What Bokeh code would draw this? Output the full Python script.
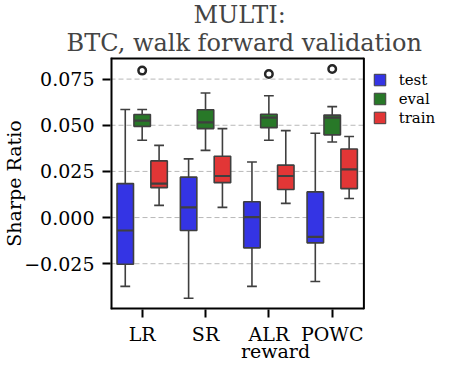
from bokeh.plotting import figure
from bokeh.models import FixedTicker, Range1d, Title
from bokeh.core.properties import value
from bokeh.embed import file_html
from bokeh.resources import INLINE

categories = ["LR", "SR", "ALR", "POWC"]
series = ["test", "eval", "train"]
colors = ["#3434e4", "#287828", "#e23636"]
title_lines = ["MULTI:", "BTC, walk forward validation"]

test_lo = [-0.0373, -0.0437, -0.0373, -0.0346]
test_q1 = [-0.0253, -0.0070, -0.0164, -0.0137]
test_med = [-0.0070, 0.0055, 0.0002, -0.0105]
test_q3 = [0.0184, 0.0219, 0.0086, 0.0139]
test_hi = [0.0585, 0.0318, 0.0301, 0.0457]

eval_lo = [0.0419, 0.0364, 0.0419, 0.0409]
eval_q1 = [0.0494, 0.0482, 0.0487, 0.0448]
eval_med = [0.0525, 0.0516, 0.0541, 0.0541]
eval_q3 = [0.0558, 0.0584, 0.0560, 0.0555]
eval_hi = [0.0585, 0.0675, 0.0660, 0.0601]

train_lo = [0.0066, 0.0055, 0.0077, 0.0103]
train_q1 = [0.0162, 0.0189, 0.0152, 0.0157]
train_med = [0.0184, 0.0225, 0.0225, 0.0261]
train_q3 = [0.0307, 0.0332, 0.0284, 0.0371]
train_hi = [0.0391, 0.0482, 0.0471, 0.0439]

outlier_cat = ["LR", "ALR", "POWC"]
outlier_series = ["eval", "eval", "eval"]
outlier_val = [0.0796, 0.0778, 0.0805]

y_ticks = [-0.025, 0.0, 0.025, 0.05, 0.075]
y_tick_labels = ["\u22120.025", "0.000", "0.025", "0.050", "0.075"]

stats = {
    "test": (test_lo, test_q1, test_med, test_q3, test_hi),
    "eval": (eval_lo, eval_q1, eval_med, eval_q3, eval_hi),
    "train": (train_lo, train_q1, train_med, train_q3, train_hi),
}

FONT = "DejaVu Serif"
EDGE = "#3f3f3f"
W, H = 440, 364
LEFT = 104
Y0, Y1 = -0.0498, 0.0867
XB0, XB1 = -0.5, 3.5            # the axes box in category units
PX_PER_CAT = 64.5
X_END = XB0 + (W - LEFT) / PX_PER_CAT   # frame continues under the legend area

p = figure(width=W, height=H, output_backend="svg", toolbar_location=None,
           x_range=Range1d(XB0, X_END), y_range=Range1d(Y0, Y1),
           min_border_left=LEFT, min_border_right=0, min_border_top=57,
           min_border_bottom=52)
p.outline_line_color = None

# titles (each line centred over the axes box)
p.title.text = title_lines[0]
p.title.align = "left"
p.title.offset = 83
p.title.text_font = FONT
p.title.text_font_size = "24px"
p.title.text_font_style = "normal"
p.title.standoff = -6
p.add_layout(Title(text=title_lines[1], align="left", offset=-44, text_font=FONT,
                   text_font_size="24px", text_font_style="normal", standoff=2), "above")

# dashed horizontal grid limited to the axes box
p.xgrid.grid_line_color = None
p.ygrid.grid_line_color = None
p.segment(x0=[XB0] * len(y_ticks), x1=[XB1] * len(y_ticks), y0=y_ticks, y1=y_ticks,
          line_color="#b8b8b8", line_dash="5 3", line_width=1)

offsets = [-0.267, 0.0, 0.267]
bw = 0.26
cap = 0.155
for s, off, col in zip(series, offsets, colors):
    lo, q1, med, q3, hi = stats[s]
    xs = [i + off for i in range(len(categories))]
    p.segment(x0=xs, x1=xs, y0=q3, y1=hi, line_color=EDGE, line_width=1.6)
    p.segment(x0=xs, x1=xs, y0=lo, y1=q1, line_color=EDGE, line_width=1.6)
    p.segment(x0=[x - cap / 2 for x in xs], x1=[x + cap / 2 for x in xs], y0=hi, y1=hi,
              line_color=EDGE, line_width=1.6)
    p.segment(x0=[x - cap / 2 for x in xs], x1=[x + cap / 2 for x in xs], y0=lo, y1=lo,
              line_color=EDGE, line_width=1.6)
    p.quad(left=[x - bw / 2 for x in xs], right=[x + bw / 2 for x in xs],
           bottom=q1, top=q3, fill_color=col, line_color=EDGE, line_width=1.6)
    p.segment(x0=[x - bw / 2 for x in xs], x1=[x + bw / 2 for x in xs], y0=med, y1=med,
              line_color=EDGE, line_width=2.2)

ox = [categories.index(c) + offsets[series.index(s)] for c, s in zip(outlier_cat, outlier_series)]
p.scatter(x=ox, y=outlier_val, marker="circle", size=7.5, fill_color=None,
          line_color="#262626", line_width=2.5)

# axes box (edges on the frame border are drawn wider because half is clipped)
p.segment(x0=[XB0, XB0, XB0], x1=[XB1, XB1, XB0], y0=[Y0, Y1, Y0], y1=[Y0, Y1, Y1],
          line_color="black", line_width=4)
p.segment(x0=[XB1], x1=[XB1], y0=[Y0], y1=[Y1], line_color="black", line_width=2)

p.xaxis.ticker = FixedTicker(ticks=list(range(len(categories))))
p.xaxis.major_label_overrides = {i: c for i, c in enumerate(categories)}
p.yaxis.ticker = FixedTicker(ticks=y_ticks)
p.yaxis.major_label_overrides = {t: l for t, l in zip(y_ticks, y_tick_labels)}
for ax in (p.xaxis[0], p.yaxis[0]):
    ax.axis_line_color = None
    ax.major_tick_in = 0
    ax.major_tick_out = 8
    ax.major_tick_line_width = 2
    ax.major_tick_line_color = "black"
    ax.minor_tick_line_color = None
    ax.major_label_text_font = FONT
    ax.major_label_text_font_size = "19px"
    ax.major_label_text_color = "black"
    ax.major_label_text_line_height = 1.0
    ax.axis_label_text_font = FONT
    ax.axis_label_text_font_size = "19px"
    ax.axis_label_text_font_style = "normal"
    ax.axis_label_text_color = "black"
    ax.axis_label_text_line_height = 1.0
p.xaxis.axis_label = "reward"
p.yaxis.axis_label = "Sharpe Ratio"
p.xaxis.major_label_standoff = 5
p.xaxis.axis_label_standoff = -8
p.yaxis.major_label_standoff = 8
p.yaxis.axis_label_standoff = -4

# legend (drawn to the right of the axes box)
PX_PER_UNIT = 1802.0
leg_px_below_top = [22.0, 40.5, 59.0]
leg_x = [XB1 + 16.4 / PX_PER_CAT] * 3
leg_y = [Y1 - d / PX_PER_UNIT for d in leg_px_below_top]
p.scatter(x=leg_x, y=leg_y, marker="square", size=11.5, fill_color=colors,
          line_color=EDGE, line_width=1)
p.text(x=[x + 19 / PX_PER_CAT for x in leg_x], y=leg_y, text=series, text_font=value(FONT),
       text_font_size="15px", text_baseline="middle", text_align="left",
       text_color="black")

open("out.html", "w").write(file_html(p, INLINE))
